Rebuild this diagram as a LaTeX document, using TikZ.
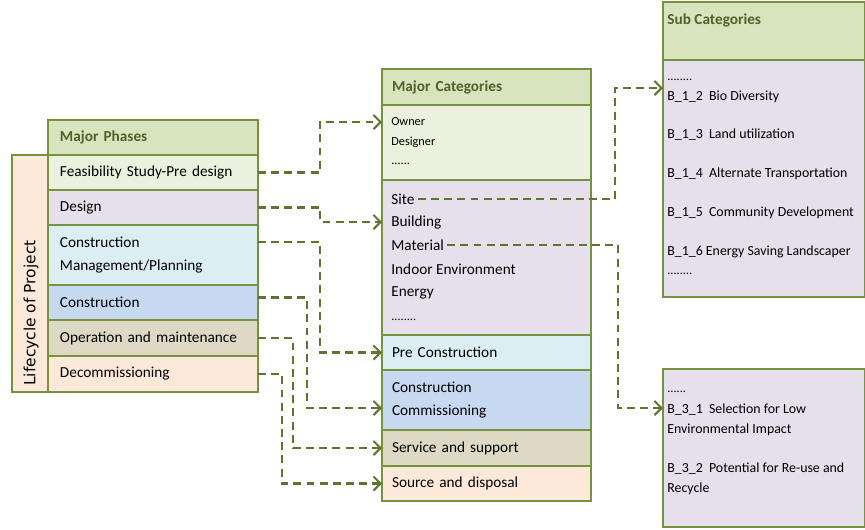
\documentclass[tikz,border=0pt]{standalone}
\usepackage{fontspec}
\setmainfont{Carlito}
\newfontfamily\lifefont{DejaVu Sans}
\usetikzlibrary{arrows.meta}
\definecolor{olv}{HTML}{76923C}
\definecolor{olvdark}{HTML}{4F6228}
\definecolor{hdr}{HTML}{D7E4BD}
\definecolor{pgreen}{HTML}{EBF1DE}
\definecolor{plilac}{HTML}{E5E0EC}
\definecolor{paqua}{HTML}{DBEEF4}
\definecolor{pblue}{HTML}{C6D9F1}
\definecolor{ptan}{HTML}{DDD9C4}
\definecolor{ppeach}{HTML}{FDE9D9}

\begin{document}
\begin{tikzpicture}[x=0.02cm, y=-0.02cm,
    cell/.style={draw=olv, line width=0.9pt, anchor=north west, outer sep=0pt, inner xsep=0.24cm, align=left, font=\fontsize{8.7}{13.4}\selectfont},
    phase/.style={cell, minimum width=4.2cm, text width=3.72cm},
    categ/.style={cell, minimum width=4.18cm, text width=3.78cm, inner xsep=0.2cm},
    subbox/.style={draw=olv, line width=0.9pt, anchor=north west, outer sep=0pt, minimum width=4.03cm, fill=plilac},
    head/.style={font=\bfseries\fontsize{8.7}{10}\selectfont, text=olvdark},
    item/.style={anchor=west, inner xsep=0.06cm, inner ysep=1pt, font=\fontsize{8.7}{10}\selectfont},
    small/.style={item, font=\fontsize{7}{8}\selectfont},
    subitem/.style={item, font=\fontsize{7.9}{9}\selectfont},
    link/.style={draw=olv!80!black, line width=1.2pt, dash pattern=on 4.5pt off 3pt, -{Straight Barb[length=4pt,width=8pt]}}]
    \useasboundingbox (0,0) rectangle (865,529);

    \node[cell, fill=ppeach, minimum width=0.72cm, minimum height=4.74cm, inner sep=0pt] (life) at (12,155) {};
    \node[rotate=90, font=\lifefont\fontsize{8.8}{10}\selectfont] (lifet) at (31,313) {Lifecycle of Project};

    \node[phase, head, fill=hdr, minimum height=0.7cm] (mph) at (48,120) {Major Phases};
    \node[phase, fill=pgreen, minimum height=0.7cm] (feas) at (48,155) {Feasibility Study-Pre design};
    \node[phase, fill=plilac, minimum height=0.7cm] (des) at (48,190) {Design};
    \node[phase, fill=paqua, minimum height=1.2cm] (cmp) at (48,225) {Construction\\Management/Planning};
    \node[phase, fill=pblue, minimum height=0.7cm] (cons) at (48,285) {Construction};
    \node[phase, fill=ptan, minimum height=0.72cm] (om) at (48,320) {Operation and maintenance};
    \node[phase, fill=ppeach, minimum height=0.72cm] (dec) at (48,356) {Decommissioning};

    \node[categ, head, fill=hdr, minimum height=0.72cm] (mcat) at (382,69) {Major Categories};
    \node[categ, fill=pgreen, minimum height=1.5cm] (own) at (382,105) {};
    \node[categ, fill=plilac, minimum height=3.1cm] (sit) at (382,180) {};
    \node[categ, fill=paqua, minimum height=0.7cm] (pre) at (382,335) {Pre Construction};
    \node[categ, fill=pblue, minimum height=1.2cm] (ccom) at (382,370) {Construction\\Commissioning};
    \node[categ, fill=ptan, minimum height=0.72cm] (serv) at (382,430) {Service and support};
    \node[categ, fill=ppeach, minimum height=0.7cm] (src) at (382,466) {Source and disposal};

    \foreach \t/\y/\n in {Owner/122/ow, Designer/142/dsg}
    \node[small] (\n) at (388,\y) {\t};
    \node[small] (odots) at (388,164) {......};
    \foreach \t/\y/\n in {Site/199/site, Building/222/bld, Material/245/mat, Indoor Environment/269/ind, Energy/293/ene}
    \node[item] (\n) at (388,\y) {\t};
    \node[small] (sdots) at (388,320) {........};

    \node[subbox, fill=hdr, minimum height=1.16cm] (subhead) at (663,2) {};
    \node[subbox, minimum height=4.74cm] (subtop) at (663,60) {};
    \node[subbox, minimum height=3.16cm] (subbot) at (663,369) {};
    \node[item, head] (subt) at (664,20) {Sub Categories};

    \node[small] (b1a) at (664,80) {........};
    \foreach \t/\y [count=\i] in {B\_1\_2\ \ Bio Diversity/97, B\_1\_3\ \ Land utilization/135, B\_1\_4\ \ Alternate Transportation/174, B\_1\_5\ \ Community Development/213, B\_1\_6 Energy Saving Landscaper/252}
    \node[subitem] (b1\i) at (664,\y) {\t};
    \node[small] (b1z) at (664,274) {........};

    \node[small] (b3a) at (664,392) {......};
    \foreach \t/\y [count=\i] in {B\_3\_1\ \ Selection for Low/410, Environmental Impact/430, B\_3\_2\ \ Potential for Re-use and/469, Recycle/489}
    \node[subitem] (b3\i) at (664,\y) {\t};

    \coordinate (inB1) at (663,88);
    \coordinate (inB3) at (663,408);

    \draw[link] (feas.east) -- ++(62,0) |- (ow -| own.west);
    \draw[link] (des.east) -- ++(62,0) |- (bld -| sit.west);
    \draw[link] ([yshift=0.26cm]cmp.east) -- ++(62,0) |- (pre.west);
    \draw[link] ([yshift=0.1cm]cons.east) -- ++(49,0) |- ([yshift=-0.16cm]ccom.west);
    \draw[link] (om.east) -- ++(35,0) |- (serv.west);
    \draw[link] (dec.east) -- ++(24,0) |- (src.west);
    \draw[link] (site.east) -| ([xshift=-0.96cm]inB1) -- (inB1);
    \draw[link] (mat.east) -| ([xshift=-0.9cm]inB3) -- (inB3);
\end{tikzpicture}
\end{document}
